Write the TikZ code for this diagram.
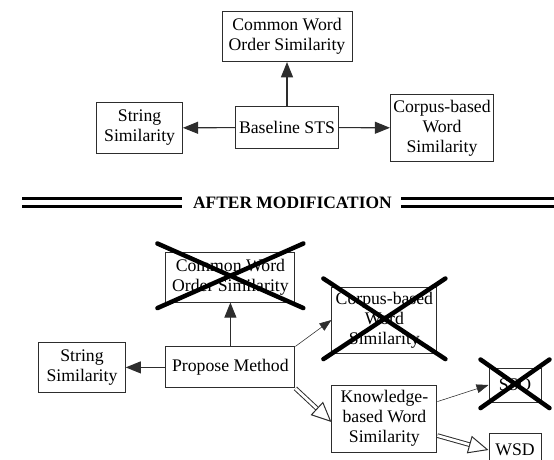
\documentclass[tikz,border=0pt]{standalone}
\usepackage{fontspec}
\setmainfont{Liberation Serif}
\usetikzlibrary{arrows.meta,calc}
\definecolor{boxgray}{RGB}{45,45,45}

\begin{document}
\begin{tikzpicture}[
        box/.style={draw=boxgray, line width=0.7pt, align=center, inner sep=1pt, font=\fontsize{12.6}{14.2}\selectfont},
        link/.style={draw=boxgray, line width=0.8pt, -{Triangle[length=0.38cm,width=0.3cm]}},
        thinlink/.style={draw=boxgray, line width=0.4pt, -{Triangle[length=0.3cm,width=0.22cm]}},
        dbllink/.style={draw=boxgray, double, double distance=1.9pt, line width=0.7pt, -{Triangle[open,length=0.5cm,width=0.45cm]}},
        cross/.style={line width=3.2pt, line cap=round}
    ]
        \useasboundingbox (0,0) rectangle (13.85,11.475);
        % Baseline STS
        \node[box, minimum width=3.25cm, minimum height=1.25cm] (cwo) at (7.175,10.56) {Common Word\\Order Similarity};
        \node[box, minimum width=2.14cm, minimum height=1.265cm] (str) at (3.49,8.275) {String\\Similarity};
        \node[box, minimum width=2.575cm, minimum height=1.04cm] (base) at (7.175,8.29) {Baseline STS};
        \node[box, minimum width=2.575cm, minimum height=1.685cm] (corp) at (11.05,8.275) {Corpus-based\\Word\\Similarity};
        \draw[link] (base) -- (cwo);
        \draw[link] (base) -- (str);
        \draw[link] (base) -- (corp);
        % Separator
        \node[font=\fontsize{12.4}{14}\selectfont\bfseries] (sep) at (7.31,6.4) {AFTER MODIFICATION};
        \foreach \y in {6.5125, 6.3125} {
            \draw[line width=0.08cm] (0.55,\y) -- (4.55,\y);
            \draw[line width=0.08cm] (10.025,\y) -- (13.9,\y);
        }
        % Proposed method
        \node[box, minimum width=3.225cm, minimum height=1.25cm] (cwo2) at (5.76,4.55) {Common Word\\Order Similarity};
        \node[box, minimum width=3.225cm, minimum height=1.025cm] (prop) at (5.76,2.29) {Propose Method};
        \node[box, minimum width=2.16cm, minimum height=1.25cm] (str2) at (2.05,2.29) {String\\Similarity};
        \node[box, minimum width=2.625cm, minimum height=1.65cm] (corp2) at (9.61,3.475) {Corpus-based\\Word\\Similarity};
        \node[box, minimum width=2.625cm, minimum height=1.675cm] (know) at (9.61,1.01) {Knowledge-\\based Word\\Similarity};
        \node[box, minimum width=1.3cm, minimum height=0.85cm] (sso) at (12.875,1.85) {SSO};
        \node[box, minimum width=1.3cm, minimum height=0.85cm] (wsd) at (12.875,0.225) {WSD};
        \draw[link] (prop) -- (cwo2);
        \draw[link] (prop) -- (str2);
        \draw[thinlink] (prop.north east) -- (corp2.west);
        \draw[dbllink] (prop.south east) -- ($(know.north west)!0.55!(know.south west)$);
        \draw[thinlink] ($(know.north east)!0.25!(know.south east)$) -- (sso.west);
        \draw[dbllink] ($(know.north east)!0.75!(know.south east)$) -- (wsd.west);
        % Removed parts
        \foreach \n in {cwo2, corp2, sso} {
            \draw[cross] ($(\n.north west)+(-0.2,0.2)$) -- ($(\n.south east)+(0.2,-0.14)$);
            \draw[cross] ($(\n.north east)+(0.2,0.2)$) -- ($(\n.south west)+(-0.2,-0.14)$);
        }
    \end{tikzpicture}
\end{document}
